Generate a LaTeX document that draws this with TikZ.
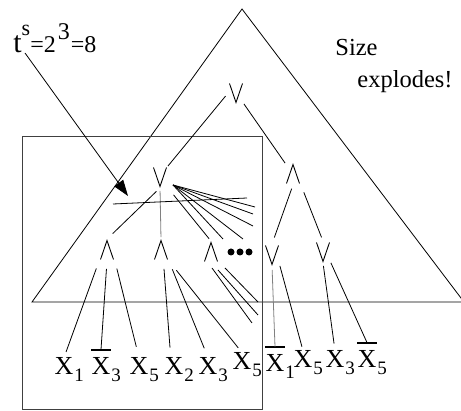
\documentclass[tikz,border=0pt]{standalone}
\usepackage{fontspec}
\setmainfont{Liberation Serif}
\usetikzlibrary{arrows.meta}
\newcommand{\lsub}[1]{\rlap{\kern1pt\raisebox{-7pt}{\fontsize{19}{19}\selectfont #1}}}

\begin{document}
\begin{tikzpicture}[x=1pt,y=-1pt,line width=0.8pt,
  gate/.style={minimum width=15pt,minimum height=21pt,inner sep=0pt},
  orgate/.style={gate,path picture={\draw[line width=0.9pt] ([shift={(1pt,-1pt)}]path picture bounding box.north west)--([shift={(0pt,1pt)}]path picture bounding box.south)--([shift={(-1pt,-1pt)}]path picture bounding box.north east);}},
  andgate/.style={gate,path picture={\draw[line width=0.9pt] ([shift={(1pt,1pt)}]path picture bounding box.south west)--([shift={(0pt,-1pt)}]path picture bounding box.north)--([shift={(-1pt,1pt)}]path picture bounding box.south east);}},
  lit/.style={inner sep=0pt,anchor=base,font=\fontsize{26}{26}\selectfont},
  txt/.style={inner sep=0pt,anchor=base west,font=\fontsize{24.5}{24.5}\selectfont},
  negbar/.style={line width=2pt}]
\useasboundingbox (0,0) rectangle (461,411);
\clip (0,0) rectangle (461,411);
\draw (242,9) -- (32,302) -- (464,302) -- cycle;
\draw[line width=1pt,black!75] (22,137) rectangle (262,410);
\node[txt] (sz) at (335,56) {Size};
\node[txt] (ex) at (357,88) {explodes!};
\node[inner sep=0pt,anchor=base west] (ts) at (13,53) {{\fontsize{30}{30}\selectfont t}\raisebox{17pt}{\fontsize{22}{22}\selectfont s}\fontsize{24}{24}\selectfont=2\kern2pt\raisebox{13pt}{3}\kern1pt=8};
\coordinate (tip) at (128,196);
\draw[-{Triangle[length=16pt,width=11pt]}] ([xshift=12pt]ts.base west) -- (tip);
% gates
\node[orgate] (o0) at (236,93) {};
\node[orgate] (o1) at (160,177) {};
\node[orgate] (o2) at (272,255) {};
\node[orgate] (o3) at (323,252) {};
\node[andgate] (a1) at (107,250) {};
\node[andgate] (a2) at (161,250) {};
\node[andgate] (a3) at (211,252) {};
\node[andgate] (a4) at (293,174) {};
% literals
\node[lit] (l1) at (64,375) {X\lsub{1}};
\node[lit] (l2) at (101,375) {X\lsub{3}};
\node[lit] (l3) at (139,375) {X\lsub{5}};
\node[lit] (l4) at (174,375) {X\lsub{2}};
\node[lit] (l5) at (208,375) {X\lsub{3}};
\node[lit] (l6) at (242,370) {X\lsub{5}};
\node[lit] (l7) at (275,372) {X\lsub{1}};
\node[lit] (l8) at (303,368) {X\lsub{5}};
\node[lit] (l9) at (335,368) {X\lsub{3}};
\node[lit] (l10) at (367,368) {X\lsub{5}};
\foreach \n in {l2,l7,l10}{\draw[negbar] ([yshift=8pt]\n.north west) -- ([yshift=8pt]\n.north east);}
% wires
\draw[shorten <=4pt] (o0.west) -- (o1.north east);
\draw (o0.south east) -- (a4.north west);
\draw[shorten <=5pt,shorten >=8pt] (o1.south) -- (a1.north);
\draw[gray,shorten <=3pt,shorten >=2pt] (o1.south) -- (a2.north);
\draw[shorten <=9pt,shorten >=3pt] (o1.south east) -- (a3.north);
\coordinate (fan) at (173,185);
\foreach \ex/\ey in {255/207,253/214,253/226,243/239,223/239}{\draw (fan) -- (\ex,\ey);}
\coordinate (c1) at (113,204); \coordinate (c2) at (247,198);
\draw (c1) -- (c2);
\foreach \sx/\sy/\ex/\ey in {212/268/252/323,218/270/258/315,225/268/258/302}{\draw (\sx,\sy) -- (\ex,\ey);}
\foreach \x in {231,240,249}{\fill (\x,252) circle (3.5pt);}
\draw[shorten <=8pt,shorten >=6pt] (a1.south west) -- (l1.north);
\draw[shorten <=8pt] (a1.south) -- ([yshift=8pt]l2.north);
\draw[shorten <=8pt,shorten >=11pt] (a1.south east) -- (l3.north);
\draw ([xshift=3pt,yshift=-8pt]a2.south) -- ([xshift=-4pt,yshift=10pt]l4.north);
\draw[shorten <=9pt,shorten >=10pt] (a2.south east) -- (l5.north);
\draw[shorten <=12pt,shorten >=6pt] (a2.south east) -- (l6.north);
\draw[shorten <=4pt,shorten >=7pt] (a4.south) -- (o2.north);
\draw[shorten <=8pt,shorten >=4pt] (a4.south east) -- (o3.north);
\draw[gray,shorten <=4pt] (o2.south) -- ([yshift=8pt]l7.north);
\draw[shorten >=4pt] (o2.south east) -- (l8.north);
\draw[shorten <=3pt,shorten >=7pt] (o3.south) -- (l9.north);
\draw (o3.south east) -- ([yshift=8pt]l10.north);
\end{tikzpicture}
\end{document}
